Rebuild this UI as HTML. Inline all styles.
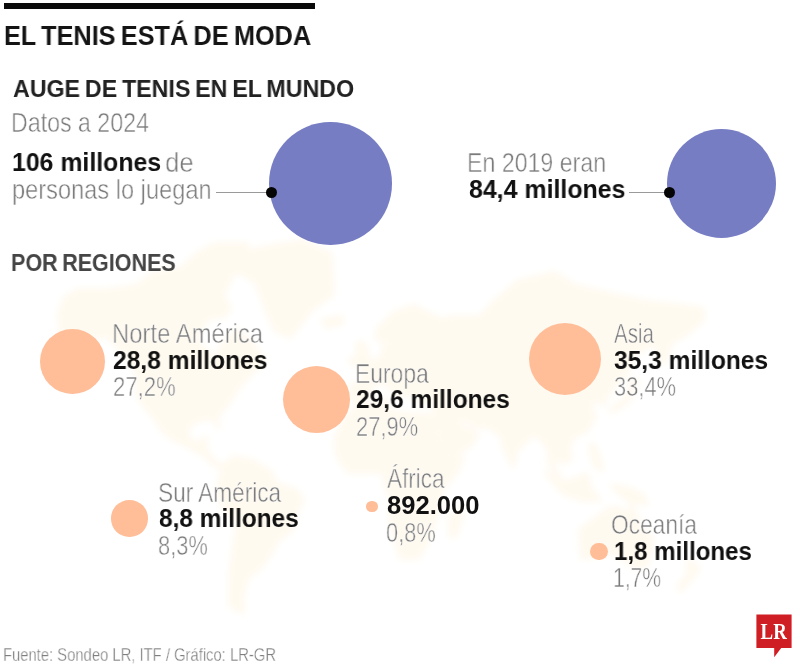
<!DOCTYPE html>
<html lang="es"><head><meta charset="utf-8"><title>El tenis está de moda</title>
<style>
html,body{margin:0;padding:0;background:#fff}
body{width:800px;height:666px;position:relative;overflow:hidden;font-family:"Liberation Sans",sans-serif}
.t{position:absolute;white-space:nowrap;line-height:1;transform-origin:0 0;will-change:transform;font-family:"Liberation Sans",sans-serif}
.k{font-weight:700;color:#141414;word-spacing:-0.07em}
.h{font-weight:700;color:#222;word-spacing:-0.07em}
.g{font-weight:700;color:#454545;word-spacing:-0.07em}
.b{font-weight:700;color:#111}
.l{font-weight:400;color:#7b7b7b;-webkit-text-stroke:0.5px #fff}
.f{font-weight:400;color:#7e7e7e;-webkit-text-stroke:0.3px #fff}
.bar{position:absolute;left:4px;top:2.6px;width:311px;height:6.2px;background:#0a0a0a}
.c{position:absolute;border-radius:50%}
.p{background:#767dc3}
.o{background:#ffbd98}
.d{background:#050505}
.ln{position:absolute;height:1px;background:#9a9a9a}
svg{position:absolute;left:0;top:0}
</style></head><body>
<svg width="800" height="666" viewBox="0 0 800 666"><defs><filter id="bl" x="-5%" y="-5%" width="110%" height="110%"><feGaussianBlur stdDeviation="3"/></filter></defs><path filter="url(#bl)" fill="#fffaf0" stroke="#fffaf0" stroke-width="4" stroke-linejoin="round" d="M59 313 65 298 78 290 108 290 136 286 154 273 182 268 197 254 215 244 247 244 251 259 234 273 223 294 230 309 223 317 210 317 195 337 215 361 223 343 238 330 253 343 264 361 245 380 238 388 227 405 217 417 219 428 214 419 201 419 188 426 188 439 199 444 206 437 206 450 214 461 223 466 215 466 204 455 191 448 173 439 163 431 154 417 145 407 137 393 137 372 126 355 108 337 89 337 70 349 61 337zM232 268 256 249 303 241 331 254 333 294 312 309 290 337 275 330 266 309 256 282zM223 466 234 457 253 461 271 472 275 483 297 491 303 500 295 515 292 530 279 539 268 558 260 568 247 578 242 599 243 613 230 605 230 578 234 548 238 521 227 513 217 493 219 483zM351 400 351 385 364 382 361 372 372 363 383 355 383 346 390 349 387 340 377 340 377 330 394 313 414 306 442 320 450 317 480 317 494 302 508 290 517 282 554 273 576 286 610 294 647 302 684 306 703 309 703 320 688 333 671 343 666 361 658 363 656 343 632 355 628 372 615 385 606 398 604 405 595 398 591 407 595 417 587 431 573 437 569 448 571 459 563 463 554 455 554 466 560 478 550 466 548 448 539 437 532 435 517 450 513 466 504 448 502 437 491 428 474 426 472 424 461 417 457 417 463 428 472 431 478 435 470 446 450 457 448 450 433 421 435 402 420 402 416 393 411 398 405 393 403 388 394 380 390 382 398 390 401 393 398 398 390 388 383 382 374 385 368 395 359 402zM336 450 336 437 344 421 357 405 387 400 388 410 405 414 428 414 433 431 448 459 463 457 457 472 442 489 441 504 433 526 429 539 418 558 401 558 396 542 390 519 392 500 385 485 385 474 377 472 361 472 349 472 340 461zM580 530 595 519 610 508 621 508 623 517 632 506 640 524 653 539 647 565 636 568 625 560 612 551 599 555 582 558zM359 366 370 363 368 355 364 343 357 343 359 355 349 361zM610 412 621 407 630 400 632 388 638 382 630 380 627 398 615 405zM545 472 563 493 582 500 600 500 591 489 587 474 573 480 561 483zM612 485 630 489 643 495 647 504 630 502 617 491zM688 560 699 568 692 578 680 591 679 585 688 575zM450 517 461 510 461 519 455 537 450 535zM323 320 342 317 342 323 327 327zM591 444 595 446 600 461 602 470 595 466 591 453z"/></svg>
<div class="bar"></div>
<div class="c p" style="left:269.3px;top:122.4px;width:122.4px;height:122.4px"></div>
<div class="c p" style="left:667px;top:129px;width:109.4px;height:109.4px"></div>
<div class="ln" style="left:215.5px;top:191.9px;width:52px"></div>
<div class="ln" style="left:629.3px;top:191.7px;width:36px"></div>
<div class="c d" style="left:265.6px;top:186.9px;width:11px;height:11px"></div>
<div class="c d" style="left:663.8px;top:186.6px;width:11px;height:11px"></div>
<div class="c o" style="left:39.5px;top:329.3px;width:65.2px;height:65.2px"></div>
<div class="c o" style="left:283.2px;top:366px;width:67.2px;height:67.2px"></div>
<div class="c o" style="left:529.1px;top:323px;width:72.2px;height:72.2px"></div>
<div class="c o" style="left:111.1px;top:500.1px;width:36.6px;height:36.6px"></div>
<div class="c o" style="left:366.3px;top:500.7px;width:11.4px;height:11.4px"></div>
<div class="c o" style="left:590.3px;top:543.1px;width:17.4px;height:17.4px"></div>
<div class="t k" style="left:4.06px;top:22.61px;font-size:26.8px;transform:scaleX(0.9435)">EL TENIS ESTÁ DE MODA</div>
<div class="t h" style="left:12.50px;top:77.31px;font-size:24.8px;transform:scaleX(0.9364)">AUGE DE TENIS EN EL MUNDO</div>
<div class="t l" style="left:11.14px;top:109.08px;font-size:27.9px;transform:scaleX(0.8311)">Datos a 2024</div>
<div class="t b" style="left:11.63px;top:150.11px;font-size:25.5px;transform:scaleX(0.9737)">106 millones</div>
<div class="t l" style="left:165.06px;top:148.74px;font-size:27.6px;transform:scaleX(0.9371)">de</div>
<div class="t l" style="left:11.75px;top:175.68px;font-size:27.9px;transform:scaleX(0.8465)">personas lo juegan</div>
<div class="t l" style="left:467.33px;top:149.27px;font-size:27.8px;transform:scaleX(0.8332)">En 2019 eran</div>
<div class="t b" style="left:468.60px;top:176.91px;font-size:25.5px;transform:scaleX(0.9764)">84,4 millones</div>
<div class="t g" style="left:11.12px;top:251.18px;font-size:24.6px;transform:scaleX(0.8751)">POR REGIONES</div>
<div class="t l" style="left:111.80px;top:320.35px;font-size:28.0px;transform:scaleX(0.8519)">Norte América</div>
<div class="t b" style="left:113.20px;top:348.01px;font-size:25.5px;transform:scaleX(0.9639)">28,8 millones</div>
<div class="t l" style="left:112.50px;top:372.85px;font-size:27.7px;transform:scaleX(0.7973)">27,2%</div>
<div class="t l" style="left:355.27px;top:359.70px;font-size:28.0px;transform:scaleX(0.8161)">Europa</div>
<div class="t b" style="left:356.40px;top:387.41px;font-size:25.5px;transform:scaleX(0.9601)">29,6 millones</div>
<div class="t l" style="left:355.61px;top:412.75px;font-size:27.7px;transform:scaleX(0.7908)">27,9%</div>
<div class="t l" style="left:614.00px;top:320.00px;font-size:28.0px;transform:scaleX(0.7323)">Asia</div>
<div class="t b" style="left:614.40px;top:347.71px;font-size:25.5px;transform:scaleX(0.9620)">35,3 millones</div>
<div class="t l" style="left:613.51px;top:373.05px;font-size:27.7px;transform:scaleX(0.7882)">33,4%</div>
<div class="t l" style="left:157.99px;top:478.50px;font-size:28.0px;transform:scaleX(0.8067)">Sur América</div>
<div class="t b" style="left:158.60px;top:505.91px;font-size:25.5px;transform:scaleX(0.9575)">8,8 millones</div>
<div class="t l" style="left:157.81px;top:531.75px;font-size:27.7px;transform:scaleX(0.7904)">8,3%</div>
<div class="t l" style="left:387.10px;top:465.00px;font-size:28.0px;transform:scaleX(0.8028)">África</div>
<div class="t b" style="left:386.90px;top:492.71px;font-size:25.5px;transform:scaleX(1.0033)">892.000</div>
<div class="t l" style="left:385.61px;top:518.55px;font-size:27.7px;transform:scaleX(0.7888)">0,8%</div>
<div class="t l" style="left:611.19px;top:510.50px;font-size:28.0px;transform:scaleX(0.8122)">Oceanía</div>
<div class="t b" style="left:613.56px;top:538.51px;font-size:25.5px;transform:scaleX(0.9448)">1,8 millones</div>
<div class="t l" style="left:612.98px;top:563.95px;font-size:27.7px;transform:scaleX(0.7621)">1,7%</div>
<div class="t f" style="left:3.26px;top:646.80px;font-size:17.6px;transform:scaleX(0.8407)">Fuente: Sondeo LR, ITF / Gráfico: LR-GR</div>
<svg width="800" height="666" viewBox="0 0 800 666">
<path d="M756.4 614.4h35.2v33.7h-10.4l-7 9.2v-9.2h-17.8z" fill="#cf1f25"/>
<text x="760.6" y="639.3" font-family="Liberation Serif" font-weight="700" font-size="23.5" fill="#fff" textLength="26.2" lengthAdjust="spacingAndGlyphs">LR</text>
</svg>
</body></html>
